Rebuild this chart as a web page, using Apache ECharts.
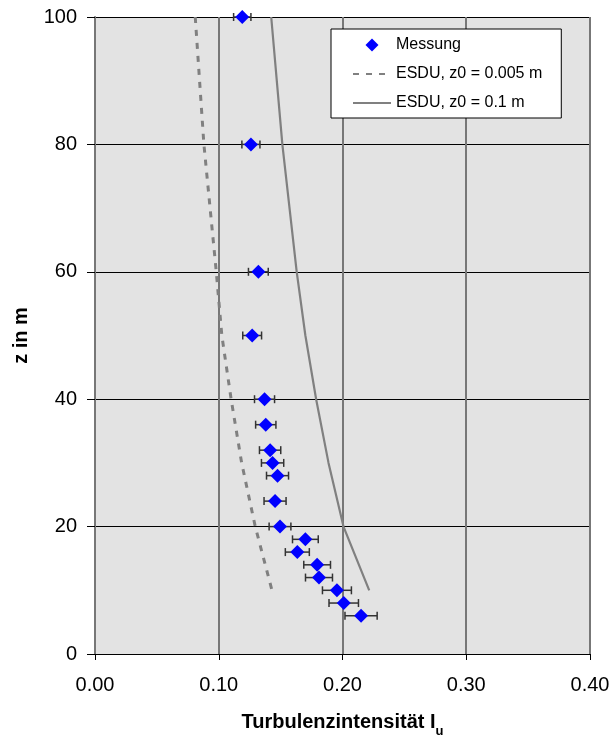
<!DOCTYPE html>
<html>
<head>
<meta charset="utf-8">
<script src="https://cdn.jsdelivr.net/npm/echarts@6/dist/echarts.min.js"></script>
<style>html,body{margin:0;padding:0;background:#fff}#c{width:609px;height:742px}</style>
</head>
<body>
<div id="c"></div>
<script>
// Measured data (Messung)
var messZ   = [100, 80, 60, 50, 40, 36, 32, 30, 28, 24, 20, 18, 16, 14, 12, 10, 8, 6];
var messI   = [0.119, 0.126, 0.132, 0.127, 0.137, 0.138, 0.1415, 0.1435, 0.1475, 0.1455, 0.1495, 0.170, 0.1635, 0.1795, 0.181, 0.1955, 0.201, 0.215];
var messErr = [0.007, 0.0073, 0.008, 0.0076, 0.0081, 0.0082, 0.0086, 0.009, 0.0089, 0.0089, 0.0088, 0.0104, 0.0097, 0.0108, 0.0109, 0.0117, 0.0119, 0.013];
// ESDU profiles
var esduZ      = [100, 80, 60, 50, 40, 30, 20, 10];
var esdu0005   = [0.081, 0.088, 0.098, 0.1025, 0.110, 0.1185, 0.1295, 0.143];
var esdu01     = [0.1424, 0.1514, 0.163, 0.170, 0.1787, 0.1887, 0.2008, 0.2216];
// Axis ticks
var xTicks = [0.00, 0.10, 0.20, 0.30, 0.40];
var yTicks = [0, 20, 40, 60, 80, 100];
var names = ['Messung', 'ESDU, z0 = 0.005 m', 'ESDU, z0 = 0.1 m'];

var FONT = "'Liberation Sans', Arial, sans-serif";
function pairs(xs, ys){ return xs.map(function(x,i){ return [x, ys[i]]; }); }

var chart = echarts.init(document.getElementById('c'), null, {renderer:'canvas'});
chart.setOption({
  animation: false,
  textStyle: {fontFamily: FONT},
  grid: {left: 95, right: 19, top: 17, bottom: 88, show: true, backgroundColor: '#E3E3E3', borderWidth: 0,
         containLabel: false, outerBoundsMode: 'none'},
  legend: {
    data: [
      {name: names[0], icon: 'path://M0,-1L1,0L0,1L-1,0Z'},
      {name: names[1], itemStyle: {opacity: 0}},
      {name: names[2], itemStyle: {opacity: 0}}
    ],
    orient: 'vertical',
    left: 331, top: 29,
    padding: [8, 19, 7, 21],
    itemWidth: 38, itemHeight: 13, itemGap: 13,
    symbolKeepAspect: true,
    backgroundColor: '#fff', borderColor: '#000', borderWidth: 1, borderRadius: 0,
    textStyle: {fontFamily: FONT, fontSize: 16, color: '#000'}
  },
  xAxis: {
    type: 'value', min: xTicks[0], max: xTicks[xTicks.length-1], interval: 0.1,
    name: '{a|Turbulenzintensität I}{b|u}', nameLocation: 'middle', nameGap: 58,
    nameTextStyle: {rich: {
      a: {fontFamily: FONT, fontSize: 20, fontWeight: 'bold', color: '#000', verticalAlign: 'top', padding: [0,0,6,0]},
      b: {fontFamily: FONT, fontSize: 13, fontWeight: 'bold', color: '#000', verticalAlign: 'bottom'}
    }},
    axisLine: {show: true, onZero: false, lineStyle: {color: '#000', width: 1}},
    axisTick: {show: true, length: 6, lineStyle: {color: '#000'}},
    axisLabel: {fontFamily: FONT, fontSize: 20, color: '#000', margin: 21, formatter: function(v){ return v.toFixed(2); }},
    splitLine: {show: true, lineStyle: {color: '#777', width: 2}}
  },
  yAxis: {
    type: 'value', min: yTicks[0], max: yTicks[yTicks.length-1], interval: 20,
    name: 'z in m', nameLocation: 'middle', nameGap: 64,
    nameTextStyle: {fontFamily: FONT, fontSize: 20, fontWeight: 'bold', color: '#000'},
    axisLine: {show: true, onZero: false, lineStyle: {color: '#777', width: 2}},
    axisTick: {show: true, length: 8, lineStyle: {color: '#000'}},
    axisLabel: {fontFamily: FONT, fontSize: 20, color: '#000', margin: 18},
    splitLine: {show: true, lineStyle: {color: '#000', width: 1}}
  },
  series: [
    {
      name: names[2], type: 'line', data: pairs(esdu01, esduZ), symbol: 'none', z: 2,
      lineStyle: {color: '#808080', width: 2.2, type: 'solid'}, itemStyle: {color: '#808080'}
    },
    {
      name: names[1], type: 'line', data: pairs(esdu0005, esduZ), symbol: 'none', z: 2,
      lineStyle: {color: '#808080', width: 3, type: [6, 7]}, itemStyle: {color: '#808080'}
    },
    {
      name: 'err', type: 'custom', z: 3,
      data: messI.map(function(v,i){ return [v, messZ[i], v - messErr[i], v + messErr[i]]; }),
      encode: {x: [0,2,3], y: 1},
      renderItem: function(params, api){
        var z = api.value(1);
        var p1 = api.coord([api.value(2), z]);
        var p2 = api.coord([api.value(3), z]);
        var h = 4;
        var st = {stroke: '#333', lineWidth: 1.5};
        return {type: 'group', children: [
          {type: 'line', shape: {x1: p1[0], y1: p1[1], x2: p2[0], y2: p2[1]}, style: st},
          {type: 'line', shape: {x1: p1[0], y1: p1[1]-h, x2: p1[0], y2: p1[1]+h}, style: st},
          {type: 'line', shape: {x1: p2[0], y1: p2[1]-h, x2: p2[0], y2: p2[1]+h}, style: st}
        ]};
      }
    },
    {
      name: names[0], type: 'scatter', data: pairs(messI, messZ), symbol: 'diamond', symbolSize: 14, z: 4,
      itemStyle: {color: '#0000FF', opacity: 1}
    }
  ]
});
</script>
</body>
</html>
